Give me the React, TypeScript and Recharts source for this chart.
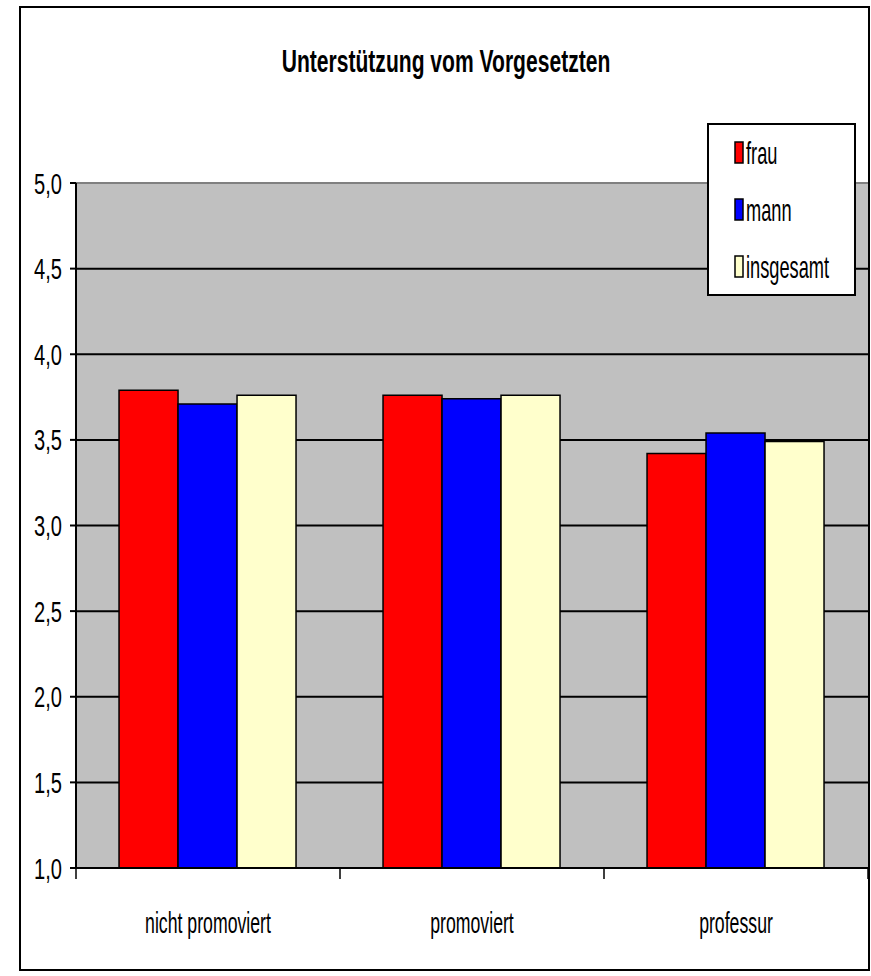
import React from 'react';
import { BarChart, Bar, XAxis, YAxis, CartesianGrid, Legend, ReferenceLine } from 'recharts';

// Werte
const categories = ['nicht promoviert', 'promoviert', 'professur'];
const frau = [3.79, 3.76, 3.42];
const mann = [3.71, 3.74, 3.54];
const insgesamt = [3.76, 3.76, 3.49];
const yTicks = [1.0, 1.5, 2.0, 2.5, 3.0, 3.5, 4.0, 4.5, 5.0];
const gridValues = [1.5, 2.0, 2.5, 3.0, 3.5, 4.0, 4.5];

const series = [
  { key: 'frau', name: 'frau', color: '#FF0000' },
  { key: 'mann', name: 'mann', color: '#0000FF' },
  { key: 'insgesamt', name: 'insgesamt', color: '#FFFFCC' },
];

const data = categories.map((c, i) => ({
  kategorie: c,
  frau: frau[i],
  mann: mann[i],
  insgesamt: insgesamt[i],
}));

const FONT = '"Liberation Sans", Arial, sans-serif';

const YTick = (props: any) => {
  const { x, y, payload } = props;
  return (
    <text
      transform={`translate(${x},${y + 10.5}) scale(0.67,1)`}
      textAnchor="end"
      fontFamily={FONT}
      fontSize={30}
      fill="#000"
    >
      {Number(payload.value).toFixed(1).replace('.', ',')}
    </text>
  );
};

// Kategorie-Beschriftung plus Teilstriche an den Kategoriegrenzen
const XTick = (props: any) => {
  const { x, y, payload, index, width, visibleTicksCount } = props;
  const half = width / (visibleTicksCount || categories.length) / 2;
  const isLast = index === (visibleTicksCount || categories.length) - 1;
  return (
    <g>
      <line x1={x - half} x2={x - half} y1={y} y2={y + 11} stroke="#000" strokeWidth={1.5} />
      {isLast && <line x1={x + half} x2={x + half} y1={y} y2={y + 11} stroke="#000" strokeWidth={1.5} />}
      <text
        transform={`translate(${x},${y + 65}) scale(0.6,1)`}
        textAnchor="middle"
        fontFamily={FONT}
        fontSize={29.5}
        fill="#000"
      >
        {payload.value}
      </text>
    </g>
  );
};

const LegendBox = () => (
  <svg width={149} height={173} style={{ display: 'block' }}>
    <rect x={1} y={1} width={147} height={171} fill="#fff" stroke="#000" strokeWidth={2} />
    {series.map((s, i) => (
      <g key={s.key} transform={`translate(0,${i * 57})`}>
        <rect x={28} y={19} width={8} height={21} fill={s.color} stroke="#000" strokeWidth={1.5} />
        <text transform="translate(39,41) scale(0.57,1)" fontFamily={FONT} fontSize={32} fill="#000">
          {s.name}
        </text>
      </g>
    ))}
  </svg>
);

const App: React.FC = () => (
  <div style={{ position: 'absolute', left: 0, top: 0, width: 871, height: 976, background: '#fff' }}>
    <div
      style={{
        position: 'absolute',
        left: 19,
        top: 6,
        width: 851,
        height: 965,
        border: '2px solid #000',
        boxSizing: 'border-box',
      }}
    />
    <svg style={{ position: 'absolute', left: 0, top: 0 }} width={871} height={100}>
      <text
        transform="translate(446,72) scale(0.68,1)"
        textAnchor="middle"
        fontFamily={FONT}
        fontWeight="bold"
        fontSize={31}
        fill="#000"
      >
        Unterstützung vom Vorgesetzten
      </text>
    </svg>
    <div style={{ position: 'absolute', left: 0, top: 0 }}>
      <BarChart
        width={871}
        height={976}
        data={data}
        margin={{ top: 183, right: 3, left: 16, bottom: 48 }}
        barCategoryGap="16.3%"
        barGap={0}
      >
        <CartesianGrid
          vertical={false}
          horizontalValues={gridValues}
          fill="#C0C0C0"
          fillOpacity={1}
          stroke="#000"
          strokeWidth={2}
        />
        <XAxis
          dataKey="kategorie"
          tick={<XTick />}
          tickLine={false}
          tickSize={0}
          tickMargin={0}
          axisLine={{ stroke: '#000', strokeWidth: 2 }}
          height={60}
          interval={0}
        />
        <YAxis
          domain={[1, 5]}
          ticks={yTicks}
          width={60}
          tick={<YTick />}
          tickSize={6}
          tickMargin={8}
          tickLine={{ stroke: '#000', strokeWidth: 2 }}
          axisLine={{ stroke: '#000', strokeWidth: 2 }}
          allowDataOverflow
        />
        <ReferenceLine y={5} stroke="#808080" strokeWidth={2} />
        <Legend
          layout="horizontal"
          verticalAlign="middle"
          align="center"
          content={<LegendBox />}
          wrapperStyle={{ position: 'absolute', left: 707, top: 123, width: 149, height: 173 }}
        />
        {series.map((s) => (
          <Bar
            key={s.key}
            dataKey={s.key}
            name={s.name}
            fill={s.color}
            stroke="#000"
            strokeWidth={1.5}
            isAnimationActive={false}
          />
        ))}
      </BarChart>
    </div>
  </div>
);

export default App;
